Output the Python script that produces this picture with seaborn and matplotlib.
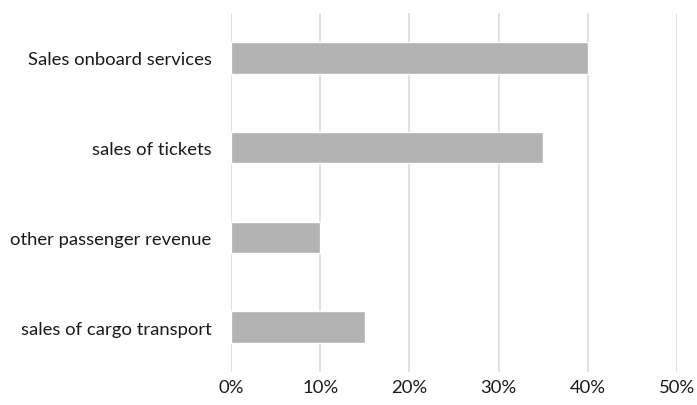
import matplotlib
matplotlib.use("Agg")
import matplotlib.pyplot as plt
import seaborn as sns
import pandas as pd
from matplotlib.ticker import PercentFormatter

categories = ["Sales onboard services", "sales of tickets", "other passenger revenue", "sales of cargo transport"]
values = [40, 35, 10, 15]
xticks = [0, 10, 20, 30, 40, 50]

sns.set_theme(style="white")
plt.rcParams['font.family'] = ['Lato', 'DejaVu Sans']

df = pd.DataFrame({"category": categories, "value": values})

fig = plt.figure(figsize=(6.97, 4.06), dpi=100)
ax = fig.add_axes([231/697, 1 - 373/406, (677 - 231)/697, (373 - 14)/406])
sns.barplot(data=df, x="value", y="category", color="#b3b3b3", width=0.35,
            saturation=1, ax=ax, zorder=3)
ax.set_xlim(0, 50)
ax.set_xticks(xticks)
ax.xaxis.set_major_formatter(PercentFormatter(decimals=0))
ax.grid(axis="x", color="#d9d9d9", linewidth=1.1, zorder=0)
ax.grid(axis="y", visible=False)
for s in ax.spines.values():
    s.set_visible(False)
ax.set_xlabel("")
ax.set_ylabel("")
ax.tick_params(axis="both", length=0, labelsize=13.3, colors="#1a1a1a")
ax.tick_params(axis="y", pad=14)
ax.tick_params(axis="x", pad=5)
fig.savefig("out.png", dpi=100)
